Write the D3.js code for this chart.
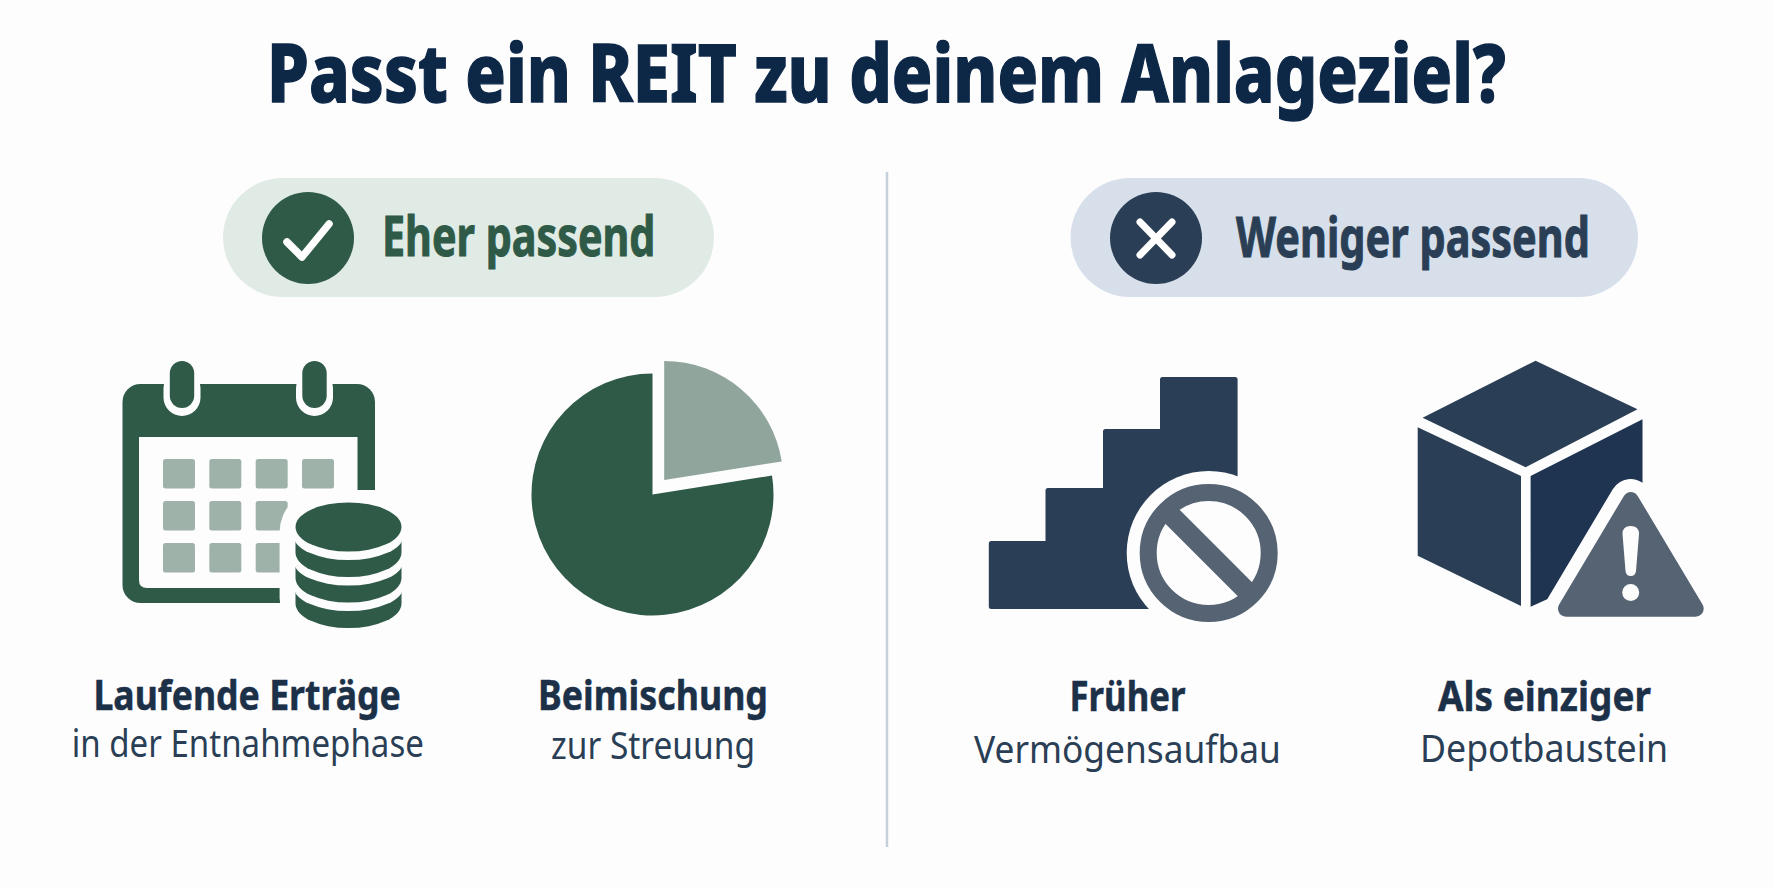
<!DOCTYPE html>
<html><head><meta charset="utf-8">
<script src="https://cdn.jsdelivr.net/npm/d3@7/dist/d3.min.js"></script>
<style>html,body{margin:0;padding:0;background:#fdfdfe}svg{display:block}text{font-family:"Noto Sans",sans-serif}</style>
</head><body><svg id="c" width="1774" height="887"></svg>
<script>
const titleText = "Passt ein REIT zu deinem Anlageziel?";
const groupLabels = ["Eher passend", "Weniger passend"];
const itemHeads = ["Laufende Erträge", "Beimischung", "Früher", "Als einziger"];
const itemSubs = ["in der Entnahmephase", "zur Streuung", "Vermögensaufbau", "Depotbaustein"];
const pieShares = [22.5, 77.5];
const calendarRows = [0, 1, 2];
const calendarCols = [0, 1, 2, 3];
const coinLayers = [3, 2, 1];
const stepHeights = [68, 121, 180, 232];

const GREEN="#2e5a47", GREEN_L="#90a69c", CELL="#9fb2a9", NAVY="#2a3f55", NAVY_D="#1f3450", SLATE="#566373", WHITE="#fdfdfe";
const svg = d3.select("#c");
svg.append("rect").attr("width",1774).attr("height",887).attr("fill",WHITE);

function fitText(g, s, x0, x1, base, size, weight, fill, sw){
  const t=g.append("text").text(s).attr("x",0).attr("y",0)
    .attr("font-size",size).attr("font-weight",weight).attr("fill",fill);
  if(sw) t.attr("stroke",fill).attr("stroke-width",sw);
  const w=t.node().getComputedTextLength();
  t.attr("transform",`translate(${x0},${base}) scale(${(x1-x0)/w},1)`);
  return t;
}
fitText(svg,titleText,267,1506,102,81,800,"#0d2747",1.4);

// divider
svg.append("line").attr("x1",887).attr("x2",887).attr("y1",172).attr("y2",847).attr("stroke","#c5cedb").attr("stroke-width",2.5);

// pills
const pills=[{x0:223,x1:714,f:"#e1ebe5",c:GREEN,cx:308,t:[382,655.5,256],col:GREEN},{x0:1070.5,x1:1638,f:"#d7dfeb",c:NAVY,cx:1156,t:[1236,1590,256.5],col:NAVY}];
pills.forEach((p,i)=>{
  svg.append("rect").attr("x",p.x0).attr("y",178).attr("width",p.x1-p.x0).attr("height",119).attr("rx",59.5).attr("fill",p.f);
  svg.append("circle").attr("cx",p.cx).attr("cy",238).attr("r",46).attr("fill",p.c);
  fitText(svg,groupLabels[i],p.t[0],p.t[1],p.t[2],55,700,p.col,1);
});
const ln=d3.line();
svg.append("path").attr("d",ln([[287,242],[302,257],[329,224]])).attr("fill","none").attr("stroke","#fff").attr("stroke-width",7.5).attr("stroke-linecap","round").attr("stroke-linejoin","round");
svg.append("path").attr("d",ln([[1140,222],[1172,255]])+ln([[1172,222],[1140,255]])).attr("fill","none").attr("stroke","#fff").attr("stroke-width",7).attr("stroke-linecap","round");

// captions
const capPos=[[93.4,401,709.5,71.7,424,757],[538,768,710,551,755,759],[1069.5,1185.6,711,974,1281,762.5],[1438,1651,711,1420,1668,762]];
capPos.forEach((c,i)=>{
  fitText(svg,itemHeads[i],c[0],c[1],c[2],41,700,"#1c3048",0.5);
  fitText(svg,itemSubs[i],c[3],c[4],c[5],39,400,NAVY);
});

// calendar
const cal=svg.append("g");
cal.append("rect").attr("x",122.5).attr("y",384).attr("width",252.5).attr("height",219).attr("rx",18).attr("fill",GREEN);
cal.append("path").attr("d","M139,437H357.5V588H147Q139,588 139,580Z").attr("fill",WHITE);
[182,314.5].forEach(x=>{
  cal.append("rect").attr("x",x-18.5).attr("y",370).attr("width",37).attr("height",46).attr("rx",18.5).attr("fill",WHITE);
  cal.append("rect").attr("x",x-12.2).attr("y",361).attr("width",24.4).attr("height",47).attr("rx",12.2).attr("fill",GREEN);
});
const cx=d3.scaleBand().domain(calendarCols).range([163,334]).paddingInner(0.31);
const cy=d3.scaleBand().domain(calendarRows).range([459,572.5]).paddingInner(0.3);
calendarRows.forEach(r=>calendarCols.forEach(c=>{
  if(r>0&&c===3) return;
  cal.append("rect").attr("x",cx(c)).attr("y",cy(r)).attr("width",cx.bandwidth()).attr("height",cy.bandwidth()).attr("rx",2.5).attr("fill",CELL);
}));
cal.append("rect").attr("x",279.6).attr("y",490).attr("width",140).attr("height",150).attr("rx",42).attr("fill",WHITE);
// coins
const coinY=d3.scaleLinear().domain([0,3]).range([527,603.5]);
const coins=svg.append("g");
coinLayers.forEach(k=>{
  const b=coinY(k);
  coins.append("path").attr("d",`M295.5,${b-22}H401.5V${b}A53,24.5 0 0 1 295.5,${b}Z`).attr("fill",GREEN);
  coins.append("ellipse").attr("cx",348.5).attr("cy",b-17).attr("rx",55).attr("ry",24.5).attr("fill",WHITE);
});
coins.append("ellipse").attr("cx",348.5).attr("cy",527).attr("rx",53).attr("ry",24.5).attr("fill",GREEN);

// pie
const pieGen=d3.pie().sort(null).startAngle(0).endAngle(2*Math.PI);
const arcs=pieGen(pieShares);
svg.append("path").attr("d",d3.arc().innerRadius(0).outerRadius(121)(arcs[1])).attr("fill",GREEN).attr("transform","translate(652.5,494.5)");
svg.append("path").attr("d",d3.arc().innerRadius(0).outerRadius(119)(arcs[0])).attr("fill",GREEN_L).attr("transform","translate(664.2,480)");

// stairs
const stepX=[988.8,1045.5,1103,1160,1237.6];
const base=609, inset=2.5;
const stairPts=[[stepX[0]+inset,base-inset]];
stepHeights.forEach((h,i)=>{stairPts.push([stepX[i]+inset,base-h+inset]);stairPts.push([i===3?stepX[4]-inset:stepX[i+1]+inset,base-h+inset]);});
stairPts.push([stepX[4]-inset,base-inset]);
svg.append("path").attr("d",ln(stairPts)+"Z").attr("fill",NAVY).attr("stroke",NAVY).attr("stroke-width",inset*2).attr("stroke-linejoin","round");
svg.append("circle").attr("cx",1208.7).attr("cy",553).attr("r",82).attr("fill",WHITE);
svg.append("circle").attr("cx",1208.7).attr("cy",553).attr("r",60.5).attr("fill",WHITE).attr("stroke",SLATE).attr("stroke-width",17);
svg.append("line").attr("x1",1208.7-43).attr("y1",553-43).attr("x2",1208.7+43).attr("y2",553+43).attr("stroke",SLATE).attr("stroke-width",20);

// cube
svg.append("path").attr("d",ln([[1535.6,360.7],[1637.5,409.3],[1525.6,467.3],[1422.6,417.7]])+"Z").attr("fill",NAVY);
svg.append("path").attr("d",ln([[1417.7,427.3],[1521,476],[1521,606],[1417.7,555.7]])+"Z").attr("fill",NAVY);
svg.append("path").attr("d",ln([[1530.6,476],[1642.5,419.3],[1642.5,556],[1530.6,606.7]])+"Z").attr("fill",NAVY_D);
const tri=ln([[1630.8,500],[1566,608.7],[1695.7,608.7]])+"Z";
svg.append("path").attr("d",tri).attr("fill",WHITE).attr("stroke",WHITE).attr("stroke-width",42).attr("stroke-linejoin","round");
svg.append("path").attr("d",tri).attr("fill",SLATE).attr("stroke",SLATE).attr("stroke-width",16).attr("stroke-linejoin","round");
svg.append("path").attr("d","M1622.5,534Q1622.5,526 1630.7,526Q1639,526 1639,534L1636,571Q1635.5,576 1630.7,576Q1626,576 1625.5,571Z").attr("fill",WHITE);
svg.append("ellipse").attr("cx",1630.7).attr("cy",592.5).attr("rx",8.5).attr("ry",8.5).attr("fill",WHITE);
</script></body></html>
